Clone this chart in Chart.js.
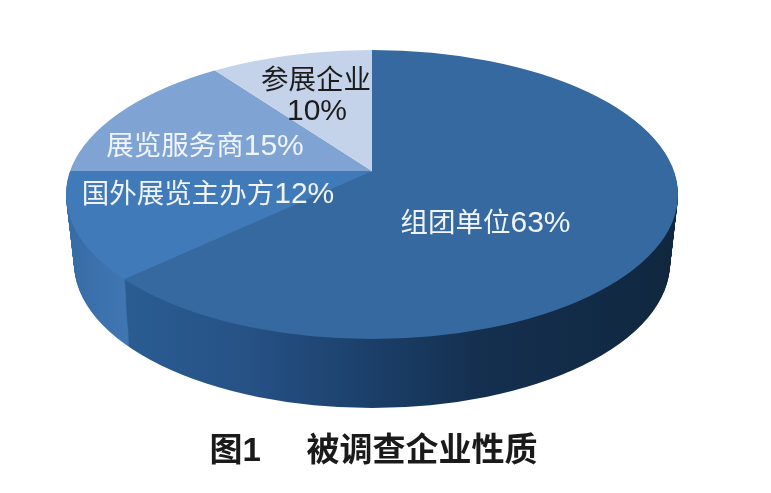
<!DOCTYPE html>
<html>
<head>
<meta charset="utf-8">
<style>
  html, body { margin: 0; padding: 0; background: #fff; }
  canvas { display: block; }
</style>
<script src="https://cdn.jsdelivr.net/npm/chart.js@4/dist/chart.umd.min.js"></script>
</head>
<body>
<canvas id="chart__nature" width="771" height="493"></canvas>
<script>
const categories = ['组团单位', '国外展览主办方', '展览服务商', '参展企业'];
const values = [63, 12, 15, 10];
const faceColors = ['#35699f', '#417ab8', '#7fa3d3', '#c4d3e9'];
const captionNumber = '图1';
const captionText = '被调查企业性质';

// the pie is drawn tilted: vertex sits above the centre of the rim ellipse
const tilt = {
    vertexX: 372, vertexY: 171,
    flatten: 2.15, reach: 400,
    depth: 69,
    top: { cy: 194.5, rx: 306, ry: 144.5 },
    bottom: { cy: 263, rx: 298, ry: 145 }
};

// side wall shading by page x, only the front slices show a wall
const wallStops = [
    [[128, '#2a5c92'], [250, '#265185'], [372, '#1b3f69'], [480, '#142f4f'], [670, '#10273f']],
    [[66, '#366ba5'], [128, '#4077b3']],
    null,
    null
];

// x is the centre of the text, y its baseline
const labelStyle = [
    { x: 485.5, y: 232, color: '#f0f4f9' },
    { x: 208, y: 203, color: '#f0f4f9' },
    { x: 205, y: 155, color: '#f0f4f9' },
    { x: 316, y: 89, color: '#1c1c1c' }
];
const nameSize = 27.5;
const percentSize = 30;

const fontFamily = '"Liberation Sans", "Noto Sans CJK SC", sans-serif';

function lerp(a, b, t) {
    return a + (b - a) * t;
}

function placeLayer(ctx, arc, scale, d) {
    const t = d / tilt.depth;
    ctx.beginPath();
    ctx.ellipse(
        tilt.vertexX,
        lerp(tilt.top.cy, tilt.bottom.cy, t),
        lerp(tilt.top.rx, tilt.bottom.rx, t),
        lerp(tilt.top.ry, tilt.bottom.ry, t),
        0, 0, Math.PI * 2
    );
    ctx.clip();
    ctx.translate(tilt.vertexX, tilt.vertexY + d);
    ctx.scale(scale, scale / tilt.flatten);
    ctx.translate(-arc.x, -arc.y);
}

function drawArcWith(ctx, arc, fill) {
    const saved = arc.options;
    arc.options = Object.assign({}, saved, { backgroundColor: fill });
    arc.draw(ctx);
    arc.options = saved;
}

const tiltedPie = {
    id: 'tiltedPie',
    beforeDatasetsDraw(chart) {
        const ctx = chart.ctx;
        const arcs = chart.getDatasetMeta(0).data;
        const scale = tilt.reach / arcs[0].outerRadius;

        const wallFills = wallStops.map(stops => {
            if (!stops) return null;
            const toChart = x => arcs[0].x + (x - tilt.vertexX) / scale;
            const first = stops[0][0];
            const last = stops[stops.length - 1][0];
            const g = ctx.createLinearGradient(toChart(first), 0, toChart(last), 0);
            stops.forEach(s => g.addColorStop((s[0] - first) / (last - first), s[1]));
            return g;
        });

        for (let d = tilt.depth; d > 0; d--) {
            ctx.save();
            placeLayer(ctx, arcs[0], scale, d);
            arcs.forEach((arc, i) => {
                if (wallFills[i]) drawArcWith(ctx, arc, wallFills[i]);
            });
            ctx.restore();
        }

        ctx.save();
        placeLayer(ctx, arcs[0], scale, 0);
        arcs.forEach(arc => arc.draw(ctx));
        ctx.restore();

        return false;
    },
    afterDraw(chart) {
        const ctx = chart.ctx;
        const nameFont = nameSize + 'px ' + fontFamily;
        const percentFont = percentSize + 'px ' + fontFamily;
        ctx.save();
        ctx.textBaseline = 'alphabetic';
        categories.forEach((name, i) => {
            const s = labelStyle[i];
            const percent = values[i] + '%';
            ctx.fillStyle = s.color;
            if (i === 3) {
                // this one wraps, the slice is too narrow
                ctx.textAlign = 'center';
                ctx.font = nameFont;
                ctx.fillText(name, s.x, s.y);
                ctx.font = percentFont;
                ctx.fillText(percent, s.x + 1, s.y + 31);
                return;
            }
            ctx.textAlign = 'left';
            ctx.font = nameFont;
            const nameWidth = ctx.measureText(name).width;
            ctx.font = percentFont;
            const percentWidth = ctx.measureText(percent).width;
            const left = s.x - (nameWidth + percentWidth) / 2;
            ctx.font = nameFont;
            ctx.fillText(name, left, s.y);
            ctx.font = percentFont;
            ctx.fillText(percent, left + nameWidth, s.y);
        });
        ctx.restore();
    }
};

new Chart(document.getElementById('chart__nature'), {
    type: 'pie',
    data: {
        labels: categories,
        datasets: [{
            data: values,
            backgroundColor: faceColors,
            borderWidth: 0
        }]
    },
    options: {
        responsive: false,
        animation: false,
        devicePixelRatio: 1,
        layout: { padding: { right: 24 } },
        plugins: {
            legend: { display: false },
            tooltip: { enabled: false },
            title: {
                display: true,
                position: 'bottom',
                text: captionNumber + '     ' + captionText,
                color: '#1a1a1a',
                font: { family: fontFamily, size: 33, weight: 'bold' },
                padding: { top: 0, bottom: 21 }
            }
        }
    },
    plugins: [tiltedPie]
});
</script>
</body>
</html>
